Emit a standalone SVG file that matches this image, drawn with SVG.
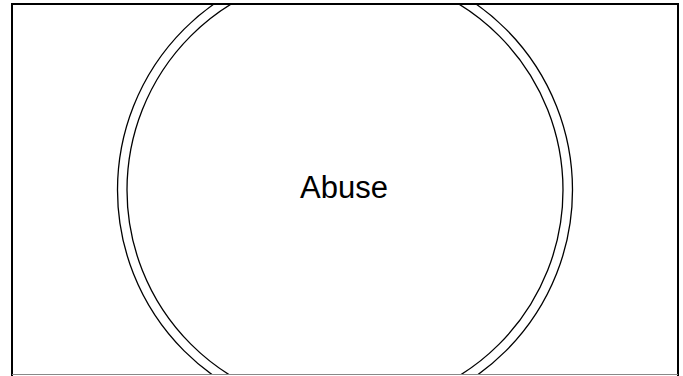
<svg xmlns="http://www.w3.org/2000/svg" width="683" height="376" viewBox="0 0 683 376">
<style>
.ring{fill:none;stroke:#000;stroke-width:1.3}
.lbl{font-family:"Liberation Sans",Arial,sans-serif;font-size:31px;fill:#000;text-anchor:middle}
.frame{fill:none;stroke:#000;stroke-width:2}
</style>
<defs>
<clipPath id="inside"><rect x="12" y="4" width="666" height="371"/></clipPath>
</defs>
<rect x="0" y="0" width="683" height="376" fill="#fff"/>
<g id="abuse" clip-path="url(#inside)">
<circle class="ring" cx="345" cy="190" r="227.5"/>
<circle class="ring" cx="345" cy="190" r="218"/>
<text class="lbl" x="344" y="198">Abuse</text>
</g>
<path class="frame" d="M12 376 V4 H678 V376"/>
<line x1="12" y1="374.5" x2="678" y2="374.5" stroke="#888" stroke-width="1"/>
<g id="connectors"></g>
</svg>
